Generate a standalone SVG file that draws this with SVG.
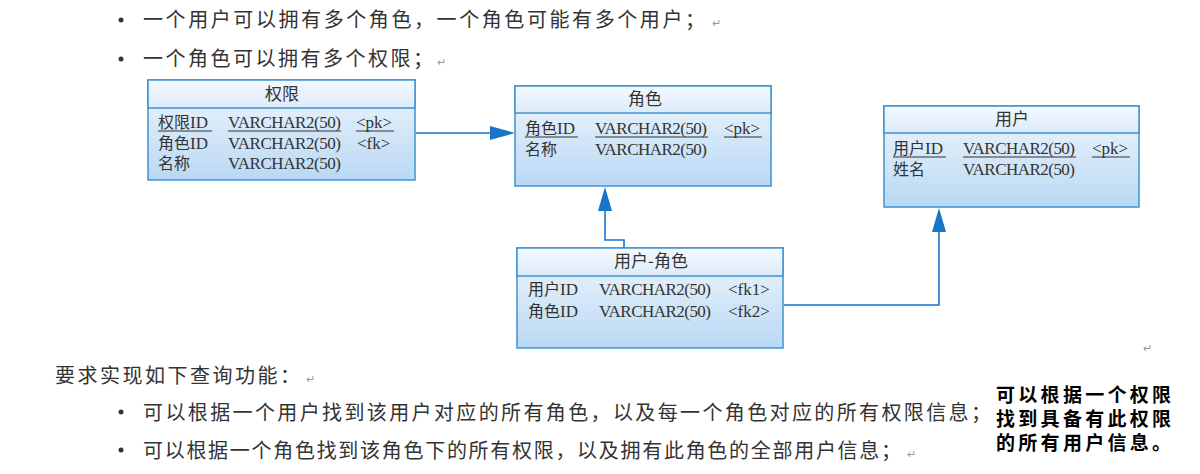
<svg xmlns="http://www.w3.org/2000/svg" width="1200" height="474" viewBox="0 0 1200 474">
<defs>
<linearGradient id="gb" x1="0" y1="0" x2="0" y2="1">
<stop offset="0" stop-color="#f1f7fd"/>
<stop offset="1" stop-color="#b9d8f4"/>
</linearGradient>
<linearGradient id="gh" x1="0" y1="0" x2="0" y2="1">
<stop offset="0" stop-color="#f4f9fe"/>
<stop offset="1" stop-color="#dcebf9"/>
</linearGradient>
</defs>
<style>
.doc{font-family:"Noto Sans CJK SC","Liberation Sans",sans-serif;font-size:20px;fill:#333}
.mark{font-family:"Liberation Sans",sans-serif;font-size:11px;fill:#999}
.box{fill:url(#gb);stroke:#3f93cf;stroke-width:1.5}
.hdr{fill:url(#gh);stroke:#3f93cf;stroke-width:1.5}
.ttl{font-family:"Noto Sans CJK SC",sans-serif;font-size:17px;fill:#333;text-anchor:middle}
.cell{font-family:"Liberation Serif","Noto Sans CJK SC",serif;font-size:17px;fill:#333}
.cjk{font-family:"Noto Sans CJK SC",serif;font-size:16px;fill:#333}
.ul{stroke:#333;stroke-width:1}
.conn{fill:none;stroke:#1a74c7;stroke-width:1.6}
.head{fill:#1a74c7}
.bold{font-family:"Noto Sans CJK SC",sans-serif;font-size:19px;font-weight:bold;fill:#000;letter-spacing:3.3px}
</style>

<g id="top-text">
<circle cx="121" cy="20" r="2.5" fill="#333"/>
<text class="doc" x="143" y="27" textLength="562">一个用户可以拥有多个角色，一个角色可能有多个用户；</text>
<text class="mark" x="712" y="27">↵</text>
<circle cx="121" cy="59" r="2.5" fill="#333"/>
<text class="doc" x="143" y="66" textLength="290">一个角色可以拥有多个权限；</text>
<text class="mark" x="437" y="66">↵</text>
</g>

<g id="connectors">
<line class="conn" x1="416" y1="133" x2="492" y2="133"/>
<polyline class="conn" points="624,248 624,240 605,240 605,209"/>
<polyline class="conn" points="784,305 939,305 939,230"/>
<polygon class="head" points="490,126 515,133 490,140"/>
<polygon class="head" points="598,211 605,187 612,211"/>
<polygon class="head" points="932,232 939,208 946,232"/>
</g>

<g id="node-quanxian">
<rect class="box" x="148" y="80" width="267" height="100"/>
<rect class="hdr" x="148" y="80" width="267" height="28"/>
<text class="ttl" x="282" y="100">权限</text>
<text class="cjk" x="158" y="128">权限<tspan class="cell">ID</tspan></text>
<text class="cell" x="228" y="128" textLength="113">VARCHAR2(50)</text>
<text class="cell" x="356" y="128">&lt;pk&gt;</text>
<line class="ul" x1="158" y1="131" x2="212" y2="131"/>
<line class="ul" x1="228" y1="131" x2="341" y2="131"/>
<line class="ul" x1="356" y1="131" x2="394" y2="131"/>
<text class="cjk" x="158" y="149">角色<tspan class="cell">ID</tspan></text>
<text class="cell" x="228" y="149" textLength="113">VARCHAR2(50)</text>
<text class="cell" x="357" y="149">&lt;fk&gt;</text>
<text class="cjk" x="158" y="169">名称</text>
<text class="cell" x="228" y="169" textLength="113">VARCHAR2(50)</text>
</g>

<g id="node-juese">
<rect class="box" x="515" y="86" width="256" height="100"/>
<rect class="hdr" x="515" y="86" width="256" height="27"/>
<text class="ttl" x="645" y="105">角色</text>
<text class="cjk" x="525" y="134">角色<tspan class="cell">ID</tspan></text>
<text class="cell" x="595" y="134" textLength="112">VARCHAR2(50)</text>
<text class="cell" x="724" y="134">&lt;pk&gt;</text>
<line class="ul" x1="525" y1="137" x2="578" y2="137"/>
<line class="ul" x1="595" y1="137" x2="708" y2="137"/>
<line class="ul" x1="724" y1="137" x2="762" y2="137"/>
<text class="cjk" x="525" y="155">名称</text>
<text class="cell" x="595" y="155" textLength="112">VARCHAR2(50)</text>
</g>

<g id="node-yonghu">
<rect class="box" x="884" y="106" width="255" height="101"/>
<rect class="hdr" x="884" y="106" width="255" height="27"/>
<text class="ttl" x="1012" y="125">用户</text>
<text class="cjk" x="893" y="154">用户<tspan class="cell">ID</tspan></text>
<text class="cell" x="963" y="154" textLength="112">VARCHAR2(50)</text>
<text class="cell" x="1092" y="154">&lt;pk&gt;</text>
<line class="ul" x1="893" y1="157" x2="946" y2="157"/>
<line class="ul" x1="963" y1="157" x2="1076" y2="157"/>
<line class="ul" x1="1092" y1="157" x2="1130" y2="157"/>
<text class="cjk" x="893" y="175">姓名</text>
<text class="cell" x="963" y="175" textLength="112">VARCHAR2(50)</text>
</g>

<g id="node-yonghu-juese">
<rect class="box" x="517" y="248" width="266" height="100"/>
<rect class="hdr" x="517" y="248" width="266" height="28"/>
<text class="ttl" x="651" y="267">用户-角色</text>
<text class="cjk" x="528" y="295">用户<tspan class="cell">ID</tspan></text>
<text class="cell" x="599" y="295" textLength="112">VARCHAR2(50)</text>
<text class="cell" x="728" y="295">&lt;fk1&gt;</text>
<text class="cjk" x="528" y="317">角色<tspan class="cell">ID</tspan></text>
<text class="cell" x="599" y="317" textLength="112">VARCHAR2(50)</text>
<text class="cell" x="728" y="317">&lt;fk2&gt;</text>
</g>

<g id="bottom-text">
<text class="doc" x="55" y="383" textLength="245">要求实现如下查询功能：</text>
<text class="mark" x="306" y="383">↵</text>
<circle cx="121" cy="412" r="2.5" fill="#333"/>
<text class="doc" x="143" y="420" textLength="848">可以根据一个用户找到该用户对应的所有角色，以及每一个角色对应的所有权限信息；</text>
<circle cx="121" cy="450" r="2.5" fill="#333"/>
<text class="doc" x="143" y="458" textLength="758">可以根据一个角色找到该角色下的所有权限，以及拥有此角色的全部用户信息；</text>
<text class="mark" x="907" y="458">↵</text>
<text class="mark" x="1143" y="352">↵</text>
<text class="bold" x="996" y="402">可以根据一个权限</text>
<text class="bold" x="996" y="426">找到具备有此权限</text>
<text class="bold" x="996" y="450">的所有用户信息。</text>
</g>
</svg>
